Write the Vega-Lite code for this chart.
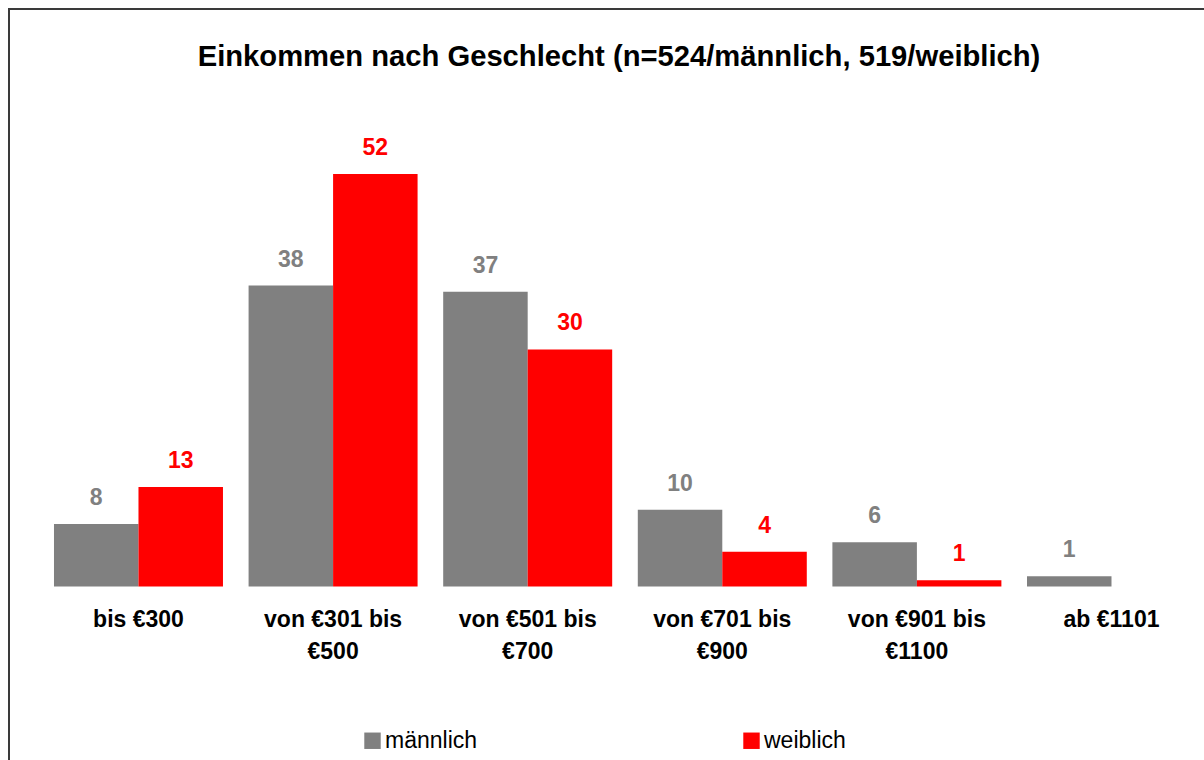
{
  "$schema": "https://vega.github.io/schema/vega-lite/v6.json",
  "width": 1206,
  "height": 775,
  "autosize": {"type": "none"},
  "padding": {"left": 9, "top": 9, "right": -11, "bottom": -24},
  "background": "white",
  "config": {
    "view": {"stroke": "#3a3a3a", "strokeWidth": 2},
    "font": "Liberation Sans",
    "legend": {
      "orient": "none",
      "legendX": 352,
      "legendY": 720,
      "direction": "horizontal",
      "symbolType": "square",
      "symbolSize": 270,
      "symbolStrokeWidth": 0,
      "labelFontSize": 23,
      "labelFont": "Liberation Sans",
      "labelColor": "#000000",
      "labelOffset": 1,
      "columnPadding": 262,
      "padding": 0
    }
  },
  "title": {
    "text": "Einkommen nach Geschlecht (n=524/männlich, 519/weiblich)",
    "font": "Liberation Sans",
    "fontSize": 29.2,
    "fontWeight": "bold",
    "color": "#000000",
    "anchor": "middle",
    "frame": "group",
    "baseline": "alphabetic",
    "offset": -86,
    "dx": 7
  },
  "datasets": {
    "bars": [
      {"cat": "bis €300", "series": "männlich", "value": 7.9},
      {"cat": "bis €300", "series": "weiblich", "value": 12.6},
      {"cat": "von €301 bis €500", "series": "männlich", "value": 38.1},
      {"cat": "von €301 bis €500", "series": "weiblich", "value": 52.2},
      {"cat": "von €501 bis €700", "series": "männlich", "value": 37.3},
      {"cat": "von €501 bis €700", "series": "weiblich", "value": 30.0},
      {"cat": "von €701 bis €900", "series": "männlich", "value": 9.7},
      {"cat": "von €701 bis €900", "series": "weiblich", "value": 4.4},
      {"cat": "von €901 bis €1100", "series": "männlich", "value": 5.6},
      {"cat": "von €901 bis €1100", "series": "weiblich", "value": 0.8},
      {"cat": "ab €1101", "series": "männlich", "value": 1.3}
    ],
    "cats": [
      {"cat": "bis €300", "label": "bis €300"},
      {"cat": "von €301 bis €500", "label": "von €301 bis\n€500"},
      {"cat": "von €501 bis €700", "label": "von €501 bis\n€700"},
      {"cat": "von €701 bis €900", "label": "von €701 bis\n€900"},
      {"cat": "von €901 bis €1100", "label": "von €901 bis\n€1100"},
      {"cat": "ab €1101", "label": "ab €1101"}
    ]
  },
  "encoding": {
    "x": {
      "field": "cat",
      "type": "nominal",
      "sort": ["bis €300", "von €301 bis €500", "von €501 bis €700", "von €701 bis €900", "von €901 bis €1100", "ab €1101"],
      "scale": {"paddingInner": 0.1316, "paddingOuter": 0.1644, "align": 0.703},
      "axis": null
    }
  },
  "layer": [
    {
      "data": {"name": "bars"},
      "mark": {"type": "bar"},
      "encoding": {
        "xOffset": {"field": "series", "type": "nominal", "scale": {"paddingInner": 0, "paddingOuter": 0}},
        "y": {"field": "value", "type": "quantitative", "scale": {"domain": [-25, 73.1], "nice": false, "zero": false}, "axis": null},
        "color": {
          "field": "series",
          "type": "nominal",
          "scale": {"domain": ["männlich", "weiblich"], "range": ["#808080", "#ff0000"]},
          "legend": {"title": null}
        }
      }
    },
    {
      "data": {"name": "bars"},
      "mark": {"type": "text", "fontSize": 23, "fontWeight": "bold", "baseline": "alphabetic", "dy": -19, "font": "Liberation Sans"},
      "encoding": {
        "xOffset": {"field": "series", "type": "nominal"},
        "y": {"field": "value", "type": "quantitative"},
        "text": {"field": "value", "type": "quantitative", "format": ".0f"},
        "color": {"condition": {"test": "datum.series === 'weiblich'", "value": "#ff0000"}, "value": "#808080"}
      }
    },
    {
      "data": {"name": "cats"},
      "mark": {"type": "text", "fontSize": 23, "fontWeight": "bold", "baseline": "alphabetic", "dy": 40.5, "lineHeight": 32, "lineBreak": "\n", "color": "#000000", "font": "Liberation Sans"},
      "encoding": {
        "y": {"datum": 0, "type": "quantitative"},
        "text": {"field": "label"}
      }
    }
  ]
}
